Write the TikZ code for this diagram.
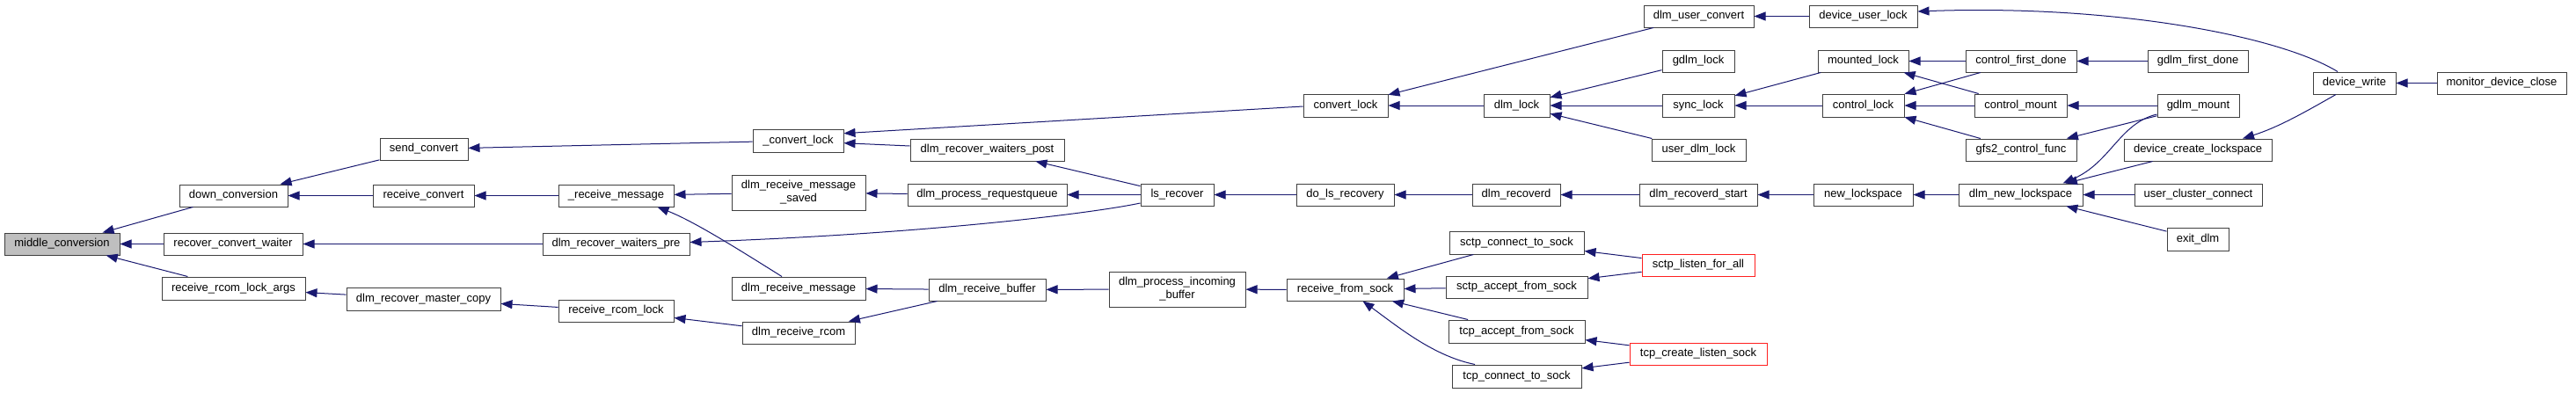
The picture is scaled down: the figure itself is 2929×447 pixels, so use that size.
\documentclass[tikz,border=0pt]{standalone}
\usepackage{fontspec}
\setmainfont{Liberation Sans}
\usetikzlibrary{arrows.meta,calc}
\definecolor{edgeblue}{HTML}{191970}
\definecolor{boxgray}{HTML}{404040}
\definecolor{rootgray}{HTML}{BFBFBF}
\definecolor{redline}{HTML}{FF2020}
\tikzset{
  box/.style={draw=boxgray, fill=white, line width=1pt, inner sep=0pt, align=center,
    font=\fontsize{13}{15}\selectfont},
  rootbox/.style={box, fill=rootgray},
  redbox/.style={box, draw=redline},
  edge/.style={draw=edgeblue, line width=1pt, {Triangle[length=13pt,width=10pt]}-},
}
\newcommand\bx[6][box]{\node[#1, minimum width=#4pt, minimum height=#5pt] (#2) at #3 {#6};}
\begin{document}
\begin{tikzpicture}[x=1pt,y=-1pt]
\useasboundingbox[fill=white] (0,0) rectangle (2929,447);
% nodes
\bx[rootbox]{mc}{(70.5,277.5)}{131}{25}{middle\_conversion}
\bx{dc}{(265.5,222.5)}{123}{25}{down\_conversion}
\bx{rcw}{(265,277.5)}{158}{25}{recover\_convert\_waiter}
\bx{rrla}{(265.5,328)}{163}{26}{receive\_rcom\_lock\_args}
\bx{sc}{(482,169.5)}{100}{25}{send\_convert}
\bx{rc}{(481.5,222.5)}{115}{25}{receive\_convert}
\bx{drmc}{(481.5,340)}{175}{26}{dlm\_recover\_master\_copy}
\bx{cvl}{(907.5,160)}{103}{26}{\_convert\_lock}
\bx{rm}{(700.5,222.5)}{131}{25}{\_receive\_message}
\bx{drwpre}{(700.5,277.5)}{167}{25}{dlm\_recover\_waiters\_pre}
\bx{rrl}{(700.5,353.5)}{131}{25}{receive\_rcom\_lock}
\bx{drms}{(908,219)}{152}{40}{dlm\_receive\_message\\\_saved}
\bx{drmsg}{(908,328)}{152}{26}{dlm\_receive\_message}
\bx{drr}{(908,378.5)}{128}{25}{dlm\_receive\_rcom}
\bx{drwpost}{(1122.5,170.5)}{175}{25}{dlm\_recover\_waiters\_post}
\bx{dprq}{(1122.5,221.5)}{181}{25}{dlm\_process\_requestqueue}
\bx{lsr}{(1338.5,221.5)}{83}{25}{ls\_recover}
\bx{drb}{(1122.5,329.5)}{133}{25}{dlm\_receive\_buffer}
\bx{dpib}{(1338.5,329)}{155}{40}{dlm\_process\_incoming\\\_buffer}
\bx{cl}{(1530,120)}{96}{26}{convert\_lock}
\bx{dl}{(1724.5,120)}{75}{26}{dlm\_lock}
\bx{duc}{(1931.5,18.5)}{125}{25}{dlm\_user\_convert}
\bx{gl}{(1931,69.5)}{82}{25}{gdlm\_lock}
\bx{sl}{(1931,120)}{82}{26}{sync\_lock}
\bx{udl}{(1931.5,170.5)}{107}{25}{user\_dlm\_lock}
\bx{dlr}{(1529.5,221.5)}{111}{25}{do\_ls\_recovery}
\bx{drd}{(1724,221.5)}{100}{25}{dlm\_recoverd}
\bx{drds}{(1931,221.5)}{134}{25}{dlm\_recoverd\_start}
\bx{rfs}{(1529.5,329.5)}{133}{25}{receive\_from\_sock}
\bx{sccs}{(1724.5,276)}{153}{26}{sctp\_connect\_to\_sock}
\bx{sacs}{(1724.5,326.5)}{161}{25}{sctp\_accept\_from\_sock}
\bx{tacs}{(1724.5,377)}{155}{26}{tcp\_accept\_from\_sock}
\bx{tccs}{(1724.5,428)}{147}{26}{tcp\_connect\_to\_sock}
\bx[redbox]{slfa}{(1931,301.5)}{128}{25}{sctp\_listen\_for\_all}
\bx[redbox]{tcls}{(1931,402.5)}{156}{25}{tcp\_create\_listen\_sock}
\bx{dul}{(2118.5,18.5)}{123}{25}{device\_user\_lock}
\bx{ml}{(2118.5,69.5)}{103}{25}{mounted\_lock}
\bx{ctl}{(2118.5,120)}{93}{26}{control\_lock}
\bx{nl}{(2118.5,221.5)}{113}{25}{new\_lockspace}
\bx{cfd}{(2298,69.5)}{126}{25}{control\_first\_done}
\bx{cm}{(2297.5,120)}{105}{26}{control\_mount}
\bx{gcf}{(2298,170.5)}{126}{25}{gfs2\_control\_func}
\bx{dnl}{(2297.5,221.5)}{141}{25}{dlm\_new\_lockspace}
\bx{gfd}{(2499,69.5)}{114}{25}{gdlm\_first\_done}
\bx{gm}{(2499.5,120)}{93}{26}{gdlm\_mount}
\bx{dcl}{(2499,170.5)}{168}{25}{device\_create\_lockspace}
\bx{ucc}{(2499.5,221.5)}{145}{25}{user\_cluster\_connect}
\bx{ed}{(2499,272)}{70}{26}{exit\_dlm}
\bx{dw}{(2677,94.5)}{94}{25}{device\_write}
\bx{mdc}{(2844.5,94.5)}{147}{25}{monitor\_device\_close}
% edges
\draw[edge] (mc) -- (dc);
\draw[edge] (mc) -- (rcw);
\draw[edge] (mc) -- (rrla);
\draw[edge] (dc) -- (sc);
\draw[edge] (dc) -- (rc);
\draw[edge] (rcw) -- (drwpre);
\draw[edge] (rrla) -- (drmc);
\draw[edge] (sc) -- (cvl);
\draw[edge] (rc) -- (rm);
\draw[edge] (drmc) -- (rrl);
\draw[edge] ($(cvl.east)+(0,-8.3)$) -- ($(cl.west)+(0,1)$);
\draw[edge] ($(cvl.east)+(0,2.7)$) -- ($(drwpost.west)+(0,-4.5)$);
\draw[edge] (rm) -- (drms);
\draw[edge] ($(rm.south)+(47,0)$) .. controls (790,252) and (845,287) .. ($(drmsg.north)+(-19,0)$);
\draw[edge] ($(drwpre.east)+(0,-2)$) .. controls (1050,266) and (1240,243) .. ($(lsr.west)+(0,9.5)$);
\draw[edge] (rrl) -- (drr);
\draw[edge] (drms) -- (dprq);
\draw[edge] (drmsg) -- (drb);
\draw[edge] (drr) -- (drb);
\draw[edge] (drwpost) -- (lsr);
\draw[edge] (dprq) -- (lsr);
\draw[edge] (lsr) -- (dlr);
\draw[edge] (drb) -- (dpib);
\draw[edge] (dpib) -- (rfs);
\draw[edge] (cl) -- (duc);
\draw[edge] (cl) -- (dl);
\draw[edge] (dl) -- (gl);
\draw[edge] (dl) -- (sl);
\draw[edge] (dl) -- (udl);
\draw[edge] (dlr) -- (drd);
\draw[edge] (drd) -- (drds);
\draw[edge] (rfs) -- (sccs);
\draw[edge] (rfs) -- (sacs);
\draw[edge] (rfs) -- (tacs);
\draw[edge] ($(rfs.south)+(20,0)$) .. controls (1590,372) and (1630,405) .. ($(tccs.north)+(-47.5,0)$);
\draw[edge] (sccs) -- (slfa);
\draw[edge] (sacs) -- (slfa);
\draw[edge] (tacs) -- (tcls);
\draw[edge] (tccs) -- (tcls);
\draw[edge] (duc) -- (dul);
\draw[edge] (sl) -- (ml);
\draw[edge] (sl) -- (ctl);
\draw[edge] (drds) -- (nl);
\draw[edge] ($(dul.east)+(0,-5.5)$) .. controls (2400,5) and (2590,40) .. ($(dw.north)+(-19,0)$);
\draw[edge] (ml) -- (cfd);
\draw[edge] (ml) -- (cm);
\draw[edge] (ctl) -- (cfd);
\draw[edge] (ctl) -- (cm);
\draw[edge] (ctl) -- (gcf);
\draw[edge] (nl) -- (dnl);
\draw[edge] (cfd) -- (gfd);
\draw[edge] (cm) -- (gm);
\draw[edge] (gcf) -- (gm);
\draw[edge] ($(dnl.north)+(48,0)$) .. controls (2400,185) and (2410,140) .. ($(gm.west)+(0,10)$);
\draw[edge] (dnl) -- (dcl);
\draw[edge] (dnl) -- (ucc);
\draw[edge] (dnl) -- (ed);
\draw[edge] ($(dcl.north)+(51,0)$) .. controls (2590,145) and (2620,128) .. ($(dw.south)+(-21,0)$);
\draw[edge] (dw) -- (mdc);
\end{tikzpicture}
\end{document}
